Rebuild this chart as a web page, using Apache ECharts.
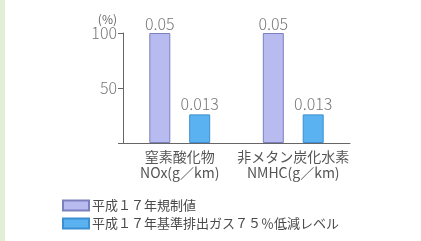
<!DOCTYPE html>
<html>
<head>
<meta charset="utf-8">
<script src="https://cdn.jsdelivr.net/npm/echarts@6/dist/echarts.min.js"></script>
<style>
html,body{margin:0;padding:0;background:#fff;}
#chart{width:421px;height:241px;}
</style>
</head>
<body>
<div id="chart"></div>
<script>
// categories and values (percent of the 2005 limit)
const categories = ['窒素酸化物\nNOx(g／km)', '非メタン炭化水素\nNMHC(g／km)'];
const seriesNames = ['平成１７年規制値', '平成１７年基準排出ガス７５％低減レベル'];
const limitPct = [100, 100];
const reducedPct = [26, 26];
const limitLabels = ['0.05', '0.05'];
const reducedLabels = ['0.013', '0.013'];
const yTicks = ['0', '50', '100'];

const font = '"Noto Sans CJK JP", "Noto Sans", sans-serif';

function legendAt(top, name) {
    return {
        left: 62,
        top: top,
        padding: 0,
        itemWidth: 26,
        itemHeight: 10,
        icon: 'rect',
        textStyle: { fontSize: 13, color: '#4a4a4a', fontFamily: font, padding: [0, 0, 0, -2] },
        data: [name]
    };
}

const chart = echarts.init(document.getElementById('chart'));
const option = {
    backgroundColor: '#fff',
    animation: false,
    textStyle: { fontFamily: font },
    graphic: [
        { type: 'rect', left: 0, top: 0, shape: { width: 5, height: 241 }, style: { fill: '#e2eed6' } }
    ],
    grid: { left: 123, right: 71, top: 33, bottom: 98 },
    legend: [legendAt(199, seriesNames[0]), legendAt(217, seriesNames[1])],
    xAxis: {
        type: 'category',
        data: categories,
        axisLine: { lineStyle: { color: '#666', width: 1 } },
        axisTick: { show: false },
        axisLabel: { interval: 0, color: '#555', fontSize: 14, lineHeight: 16, margin: 6, fontFamily: font }
    },
    yAxis: {
        type: 'value',
        min: 0,
        max: 100,
        interval: 50,
        name: '(%)',
        nameLocation: 'end',
        nameGap: 6,
        nameTextStyle: { color: '#666', fontSize: 12, align: 'right', padding: [0, 6, 0, 0], fontFamily: font },
        axisLine: { show: true, lineStyle: { color: '#666', width: 1 } },
        axisTick: { show: true, length: 5, lineStyle: { color: '#666' } },
        splitLine: { show: false },
        axisLabel: {
            color: '#777', fontSize: 16, margin: 6, fontFamily: font, fontWeight: 300,
            formatter: function (v) { return v === 0 ? '' : yTicks[yTicks.indexOf(String(v))]; }
        }
    },
    series: [
        {
            name: seriesNames[0],
            type: 'bar',
            data: limitPct,
            barWidth: 21,
            barGap: '90%',
            itemStyle: { color: '#b8bbef', borderColor: '#7c80bd', borderWidth: 1 },
            label: {
                show: true, position: 'top', distance: 1, color: '#777', fontSize: 16, fontWeight: 300, fontFamily: font,
                formatter: function (p) { return limitLabels[p.dataIndex]; }
            }
        },
        {
            name: seriesNames[1],
            type: 'bar',
            data: reducedPct,
            barWidth: 21,
            itemStyle: { color: '#5ab3f0', borderColor: '#3b8fd2', borderWidth: 1 },
            label: {
                show: true, position: 'top', distance: 2, color: '#777', fontSize: 16, fontWeight: 300, fontFamily: font,
                formatter: function (p) { return reducedLabels[p.dataIndex]; }
            }
        }
    ]
};
chart.setOption(option);
</script>
</body>
</html>
